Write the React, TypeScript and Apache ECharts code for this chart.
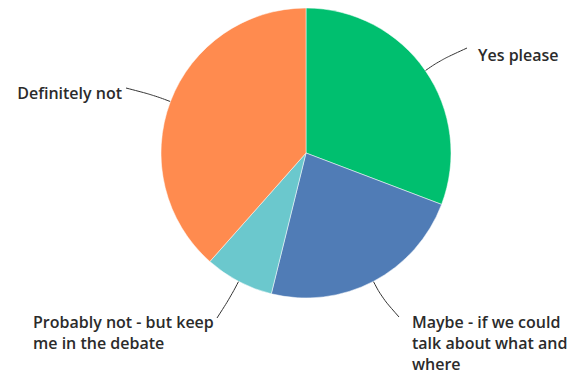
import React, { useEffect, useRef } from "react";
import * as echarts from "echarts";

const categories = [
  "Yes please",
  "Maybe - if we could talk about what and where",
  "Probably not - but keep me in the debate",
  "Definitely not",
];
const values = [4, 3, 1, 5];
const colors = ["#00BF6F", "#507CB6", "#6BC8CD", "#FF8B4F"];

// label placement: label box anchor, alignment, wrap width, and leader-line end
const labelPlacement = [
  { x: 478, y: 55, align: "left", verticalAlign: "middle", width: 120, end: [467, 48] },
  { x: 412, y: 311, align: "left", verticalAlign: "top", width: 160, end: [399, 317] },
  { x: 33, y: 311, align: "left", verticalAlign: "top", width: 195, end: [217, 318] },
  { x: 122, y: 93, align: "right", verticalAlign: "middle", width: 140, end: [126, 88] },
];

const CENTER = [306, 153];

export default function App() {
  const ref = useRef<HTMLDivElement>(null);
  useEffect(() => {
    if (!ref.current) return;
    const chart = echarts.init(ref.current, undefined, { renderer: "svg" });
    chart.setOption({
      animation: false,
      backgroundColor: "#ffffff",
      series: [
        {
          type: "pie",
          center: CENTER,
          radius: [0, 145],
          startAngle: 90,
          clockwise: true,
          data: categories.map((name, i) => ({
            name,
            value: values[i],
            itemStyle: { color: colors[i] },
            label: { width: labelPlacement[i].width },
          })),
          itemStyle: { borderColor: "#ffffff", borderWidth: 0.5 },
          label: {
            show: true,
            color: "#2b2b2b",
            fontFamily: "Open Sans",
            fontWeight: 600,
            fontSize: 16,
            lineHeight: 21,
            overflow: "break",
          },
          labelLine: {
            show: true,
            smooth: 0.4,
            length: 20,
            length2: 10,
            lineStyle: { color: "#333333", width: 1 },
          },
          labelLayout: (params: any) => {
            const p = labelPlacement[params.dataIndex];
            const start = params.labelLinePoints
              ? params.labelLinePoints[0]
              : [CENTER[0], CENTER[1]];
            const dx = start[0] - CENTER[0];
            const dy = start[1] - CENTER[1];
            const len = Math.sqrt(dx * dx + dy * dy) || 1;
            const mid = [start[0] + (dx / len) * 18, start[1] + (dy / len) * 18];
            return {
              x: p.x,
              y: p.y,
              align: p.align,
              verticalAlign: p.verticalAlign,
              labelLinePoints: [start, mid, p.end],
            };
          },
        },
      ],
    });
    return () => chart.dispose();
  }, []);
  return (
    <div
      ref={ref}
      style={{ position: "fixed", left: 0, top: 0, width: 571, height: 374 }}
    />
  );
}
